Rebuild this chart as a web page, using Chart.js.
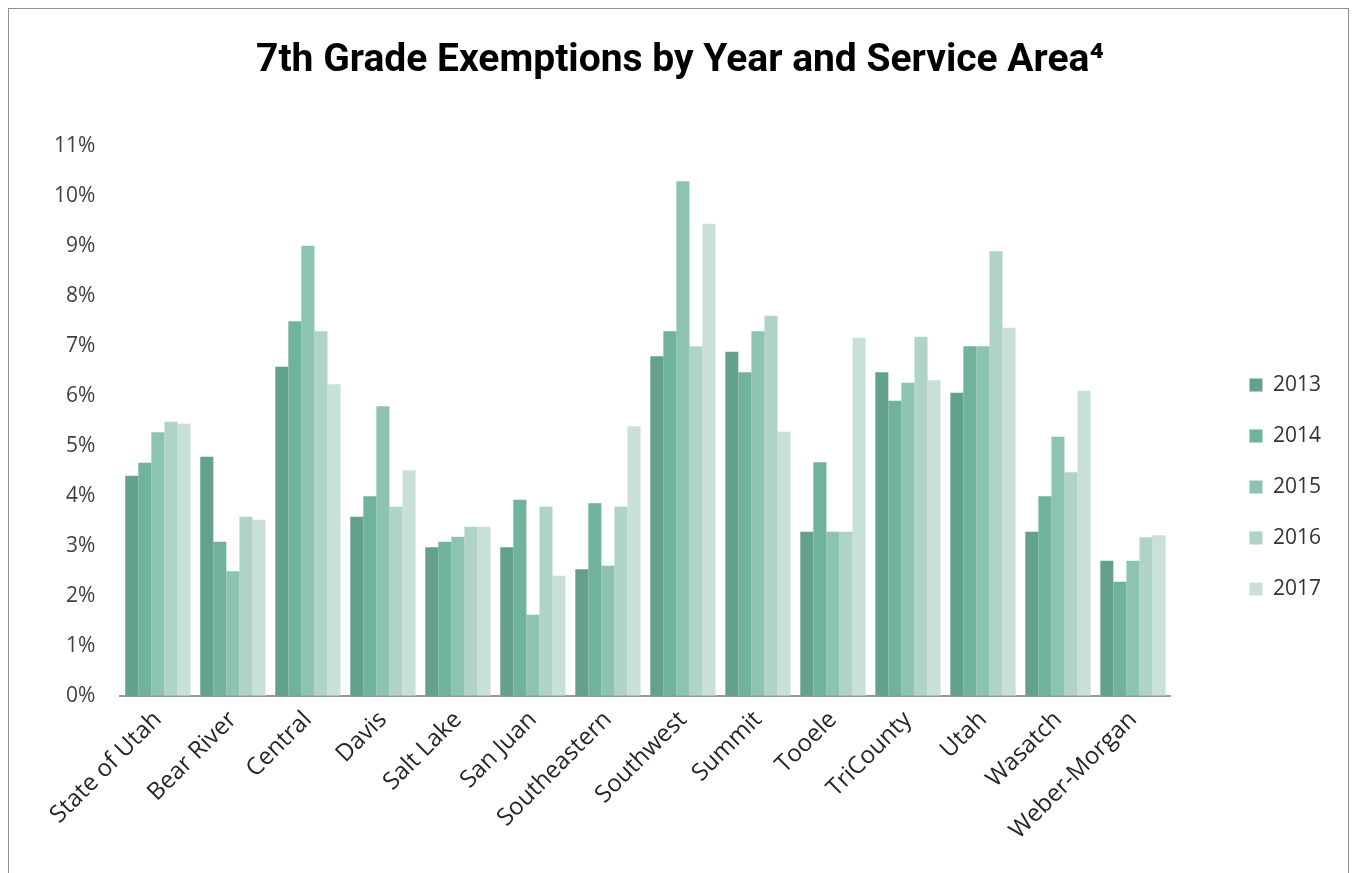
<!DOCTYPE html>
<html>
<head>
<meta charset="utf-8">
<script src="https://cdn.jsdelivr.net/npm/chart.js@4.4.1/dist/chart.umd.min.js"></script>
<style>
  body { margin: 0; background: #fff; }
  #wrap { position: relative; width: 1354px; height: 873px; }
  #frame { position: absolute; left: 8px; top: 8px; width: 1341px; height: 900px;
           border: 1px solid #8f8f8f; box-sizing: border-box; pointer-events: none; }
</style>
</head>
<body>
<div id="wrap">
  <canvas id="exemptionsChart"></canvas>
  <div id="frame"></div>
</div>
<script>
// Service areas (categories)
const areas = ['State of Utah', 'Bear River', 'Central', 'Davis', 'Salt Lake', 'San Juan',
  'Southeastern', 'Southwest', 'Summit', 'Tooele', 'TriCounty', 'Utah', 'Wasatch', 'Weber-Morgan'];

const years = ['2013', '2014', '2015', '2016', '2017'];

// Exemption rates (%)
const rate2013 = [4.40, 4.78, 6.58, 3.58, 2.97, 2.97, 2.53, 6.79, 6.88, 3.28, 6.47, 6.06, 3.28, 2.70];
const rate2014 = [4.66, 3.08, 7.49, 3.99, 3.08, 3.92, 3.85, 7.29, 6.47, 4.67, 5.90, 6.99, 3.99, 2.28];
const rate2015 = [5.27, 2.49, 9.00, 5.79, 3.18, 1.62, 2.60, 10.29, 7.29, 3.28, 6.26, 6.99, 5.18, 2.70];
const rate2016 = [5.48, 3.58, 7.29, 3.78, 3.38, 3.78, 3.78, 6.99, 7.60, 3.28, 7.18, 8.89, 4.47, 3.17];
const rate2017 = [5.44, 3.52, 6.23, 4.51, 3.38, 2.40, 5.39, 9.44, 5.28, 7.16, 6.31, 7.36, 6.10, 3.21];

// Y axis ticks: 0% .. 11%
const yTickMax = 11;
const yTickStep = 1;

const series = [rate2013, rate2014, rate2015, rate2016, rate2017];
const colors = ['#64a18c', '#70b39c', '#8dc4b1', '#afd4c6', '#c8e0d7'];

const baseFont = "'Open Sans', 'Noto Sans', sans-serif";

const datasets = years.map((y, i) => ({
  label: y,
  data: series[i],
  backgroundColor: colors[i],
  borderWidth: 0,
  categoryPercentage: 0.87,
  barPercentage: 1.0
}));

const config = {
  type: 'bar',
  data: { labels: areas, datasets: datasets },
  options: {
    responsive: true,
    maintainAspectRatio: false,
    animation: false,
    layout: { padding: { top: 10, left: 29, right: 23, bottom: 18 } },
    plugins: {
      title: {
        display: true,
        text: '7th Grade Exemptions by Year and Service Area\u2074',
        color: '#000',
        font: { family: "Roboto, 'Open Sans', sans-serif", size: 39, weight: 'bold' },
        padding: { top: 28, bottom: 61 }
      },
      legend: {
        position: 'right',
        title: { display: true, text: ' ', font: { size: 10 }, padding: { top: 48, bottom: 49 } },
        labels: {
          boxWidth: 13,
          boxHeight: 13,
          padding: 30,
          color: '#333',
          font: { family: baseFont, size: 21 }
        }
      },
      tooltip: { enabled: false }
    },
    scales: {
      x: {
        grid: { display: false, drawTicks: false },
        border: { display: true, color: '#9a9a9a', width: 2 },
        ticks: {
          color: '#262626',
          font: { family: baseFont, size: 24 },
          minRotation: 45,
          maxRotation: 45,
          padding: 10,
          autoSkip: false
        }
      },
      y: {
        min: 0,
        max: yTickMax,
        grid: { display: false, drawTicks: false },
        border: { display: false },
        ticks: {
          stepSize: yTickStep,
          color: '#404040',
          font: { family: baseFont, size: 21 },
          padding: 25,
          callback: v => v + '%'
        }
      },
      // empty right-hand axis, only to leave the gap before the legend
      gap: {
        position: 'right',
        grid: { display: false, drawTicks: false },
        border: { display: false },
        ticks: { display: false },
        afterFit: s => { s.width = 49; }
      }
    }
  }
};

const exemptionsChart = new Chart(document.getElementById('exemptionsChart'), config);
</script>
</body>
</html>
